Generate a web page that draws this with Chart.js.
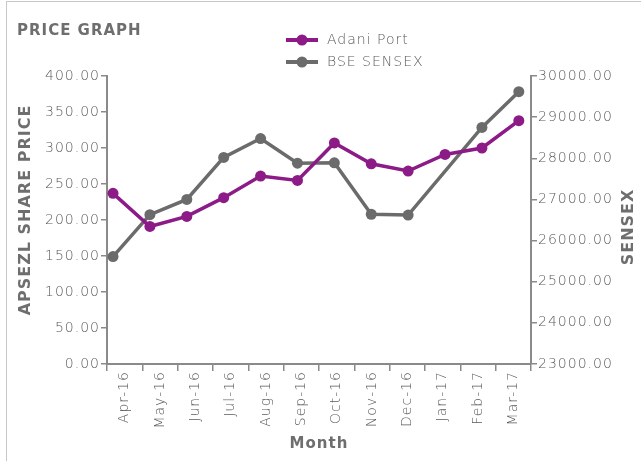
<!DOCTYPE html>
<html>
<head>
<meta charset="utf-8">
<script src="https://cdn.jsdelivr.net/npm/chart.js@4"></script>
<style>
  body { margin: 0; background: #fff; }
  #wrap { position: relative; width: 641px; height: 461px; }
  #frame { position: absolute; left: 6px; top: 1px; right: 0; bottom: 0;
           border-left: 1px solid #c8c8c8; border-top: 1px solid #c8c8c8; }
  canvas { position: absolute; left: 0; top: 0; }
</style>
</head>
<body>
<div id="wrap">
  <div id="frame"></div>
  <canvas id="myChart" width="641" height="461"></canvas>
</div>
<script>
// datos del grafico
var months = ["Apr-16", "May-16", "Jun-16", "Jul-16", "Aug-16", "Sep-16",
              "Oct-16", "Nov-16", "Dec-16", "Jan-17", "Feb-17", "Mar-17"];
var adaniPort = [237, 191, 205, 231, 261, 255, 307, 278, 268, 291, 300, 338];
var bseSensex = [25610, 26630, 27000, 28020, 28480, 27880, 27890, 26640, 26620, null, 28750, 29620];

var purple = '#8c1a87';
var grey = '#6b6b6b';
var textGrey = '#5a5a5a';
var titleGrey = '#6e6e6e';
var axisGrey = '#8a8a8a';
var fontFam = '"DejaVu Sans", sans-serif';

// los puntos van sobre un eje lineal oculto (indice del mes)
function toPoints(arr) {
  return arr.map(function (v, i) { return { x: i, y: v }; });
}

// espaciado de letras para parecerse a la fuente original
var spacingPlugin = {
  id: 'spacing',
  beforeUpdate: function (chart) { chart.ctx.letterSpacing = '1px'; },
  beforeDraw: function (chart) { chart.ctx.letterSpacing = '1px'; }
};

// titulo, leyenda vertical y titulos de ejes Y
var headerPlugin = {
  id: 'header',
  afterDraw: function (chart) {
    var c = chart.ctx;
    c.save();
    c.fillStyle = titleGrey;
    c.font = 'bold 15px ' + fontFam;
    c.textBaseline = 'middle';
    c.textAlign = 'left';
    c.fillText('PRICE GRAPH', 17, 31);

    var items = [
      { text: 'Adani Port', color: purple, y: 40 },
      { text: 'BSE SENSEX', color: grey, y: 62 }
    ];
    items.forEach(function (it) {
      c.strokeStyle = it.color;
      c.lineWidth = 4;
      c.beginPath();
      c.moveTo(286, it.y);
      c.lineTo(318, it.y);
      c.stroke();
      c.fillStyle = it.color;
      c.beginPath();
      c.arc(302, it.y, 5.5, 0, Math.PI * 2);
      c.fill();
      c.fillStyle = textGrey;
      c.font = '200 14px ' + fontFam;
      c.fillText(it.text, 327, it.y);
    });

    c.fillStyle = titleGrey;
    c.font = 'bold 16px ' + fontFam;
    c.textAlign = 'center';
    c.translate(26, 210);
    c.rotate(-Math.PI / 2);
    c.fillText('APSEZL SHARE PRICE', 0, 0);
    c.setTransform(1, 0, 0, 1, 0, 0);
    c.translate(629, 227);
    c.rotate(-Math.PI / 2);
    c.fillText('SENSEX', 0, 0);
    c.restore();
  }
};

document.addEventListener("DOMContentLoaded", function () {
  var ctx = document.getElementById('myChart').getContext('2d');

  new Chart(ctx, {
    type: 'line',
    data: {
      labels: months,
      datasets: [
        {
          label: 'Adani Port',
          data: toPoints(adaniPort),
          borderColor: purple,
          backgroundColor: purple,
          borderWidth: 3.5,
          pointRadius: 5.5,
          pointBorderWidth: 0,
          tension: 0,
          xAxisID: 'xd',
          yAxisID: 'y'
        },
        {
          label: 'BSE SENSEX',
          data: toPoints(bseSensex),
          borderColor: grey,
          backgroundColor: grey,
          borderWidth: 3.5,
          pointRadius: 5.5,
          pointBorderWidth: 0,
          tension: 0,
          spanGaps: true,
          xAxisID: 'xd',
          yAxisID: 'y1'
        }
      ]
    },
    options: {
      responsive: false,
      animation: false,
      layout: { padding: { top: 76, left: 0, right: 0, bottom: 0 } },
      plugins: {
        legend: { display: false },
        tooltip: { enabled: false }
      },
      scales: {
        x: {
          type: 'category',
          offset: true,
          grid: { display: true, drawOnChartArea: false, offset: true, tickLength: 7, color: axisGrey, lineWidth: 1.5 },
          border: { color: axisGrey, width: 2 },
          ticks: {
            minRotation: 90, maxRotation: 90, color: textGrey, padding: 0,
            font: { size: 14, weight: 200, family: fontFam }
          },
          title: {
            display: true, text: 'Month', color: titleGrey,
            font: { size: 15, weight: 'bold', family: fontFam },
            padding: { top: 0, bottom: 8 }
          },
          afterFit: function (scale) { scale.height = 97; }
        },
        xd: {
          type: 'linear',
          display: false,
          min: -0.163,
          max: 11.33
        },
        y: {
          position: 'left',
          min: 0, max: 400,
          grid: { display: true, drawOnChartArea: false, tickLength: 6, color: axisGrey, lineWidth: 1.5 },
          border: { color: axisGrey, width: 2 },
          ticks: {
            stepSize: 50, color: textGrey, padding: 1,
            font: { size: 14, weight: 200, family: fontFam },
            callback: function (v) { return v.toFixed(2); }
          },
          afterFit: function (scale) { scale.width = 107; }
        },
        y1: {
          position: 'right',
          min: 23000, max: 30000,
          grid: { display: true, drawOnChartArea: false, tickLength: 6, color: axisGrey, lineWidth: 1.5 },
          border: { color: axisGrey, width: 2 },
          ticks: {
            stepSize: 1000, color: textGrey, padding: 1,
            font: { size: 14, weight: 200, family: fontFam },
            callback: function (v) { return v.toFixed(2); }
          },
          afterFit: function (scale) { scale.width = 110; }
        }
      }
    },
    plugins: [spacingPlugin, headerPlugin]
  });
});
</script>
</body>
</html>
